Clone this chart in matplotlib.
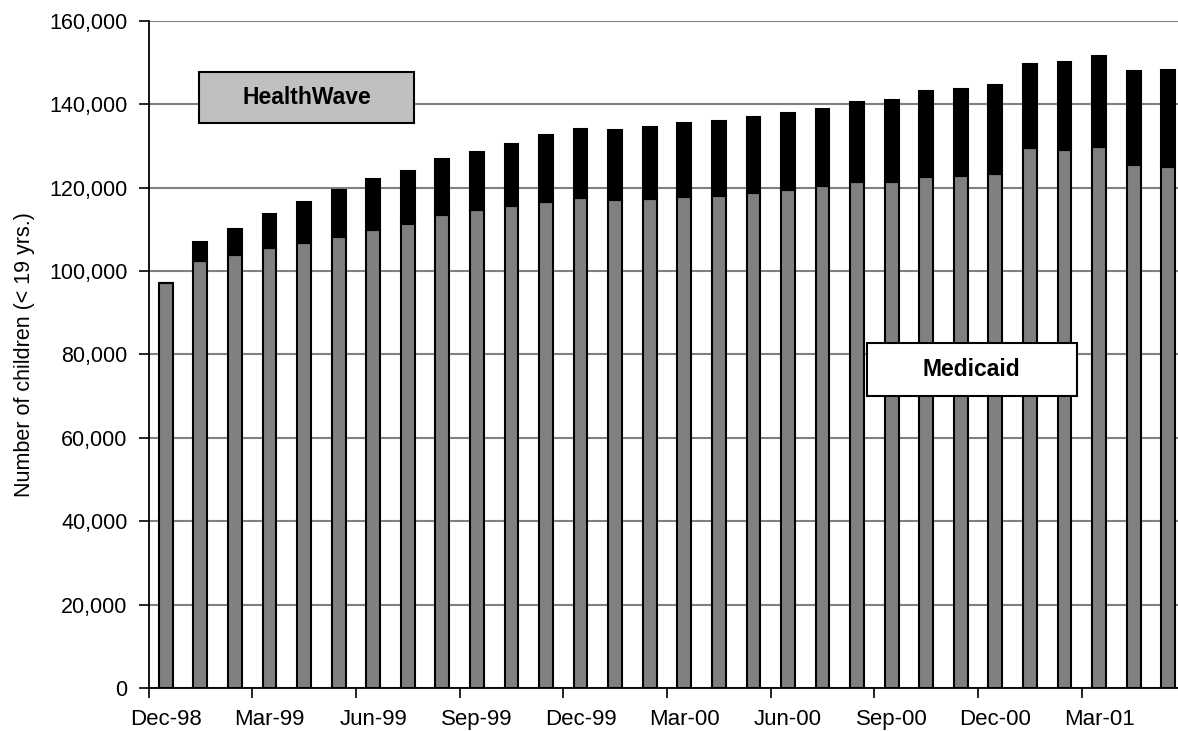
import matplotlib.pyplot as plt
from matplotlib.patches import Rectangle
from matplotlib.ticker import FuncFormatter, FixedLocator

plt.rcParams['font.family'] = ['Liberation Sans', 'DejaVu Sans']

months = ['Dec-98', 'Jan-99', 'Feb-99', 'Mar-99', 'Apr-99', 'May-99', 'Jun-99', 'Jul-99',
          'Aug-99', 'Sep-99', 'Oct-99', 'Nov-99', 'Dec-99', 'Jan-00', 'Feb-00', 'Mar-00',
          'Apr-00', 'May-00', 'Jun-00', 'Jul-00', 'Aug-00', 'Sep-00', 'Oct-00', 'Nov-00',
          'Dec-00', 'Jan-01', 'Feb-01', 'Mar-01', 'Apr-01', 'May-01']

# enrolled children by program
medicaid = [97100, 102400, 103800, 105500, 106700, 108300, 109800, 111300,
            113500, 114700, 115700, 116700, 117500, 117100, 117300, 117900,
            118000, 118700, 119500, 120300, 121400, 121400, 122500, 122900,
            123400, 129500, 129000, 129700, 125500, 125000]
total = [97100, 107000, 110000, 113800, 116700, 119500, 122000, 124000,
         126800, 128600, 130500, 132600, 134000, 133800, 134500, 135600,
         136000, 137000, 138000, 139000, 140600, 141000, 143300, 143800,
         144600, 149700, 150200, 151600, 148000, 148200]
healthwave = [t - m for t, m in zip(total, medicaid)]

fig = plt.figure(figsize=(11.78, 7.31), dpi=100)
ax = fig.add_axes([148.5 / 1178, 43 / 731, 1037 / 1178, 667 / 731])

x = list(range(len(months)))
ax.bar(x, medicaid, width=0.4, color='#808080', edgecolor='black', linewidth=1.5, zorder=2)
ax.bar(x, healthwave, bottom=medicaid, width=0.4, color='black', edgecolor='black',
       linewidth=1.5, zorder=2)

ax.set_xlim(-0.5, len(months) - 0.5)
ax.set_ylim(0, 160000)
ax.set_yticks(range(0, 160001, 20000))
ax.yaxis.set_major_formatter(FuncFormatter(lambda v, p: f'{int(v):,}'))
ax.yaxis.grid(True, color='#808080', linewidth=1.5, zorder=0)
ax.set_axisbelow(True)

# labels centred on months, tick marks between categories
ax.set_xticks(x[::3])
ax.set_xticklabels(months[::3])
ax.xaxis.set_minor_locator(FixedLocator([i - 0.5 for i in range(0, len(months) + 1, 3)]))
ax.tick_params(axis='x', which='major', length=0, pad=15, labelsize=16)
ax.tick_params(axis='x', which='minor', length=7, width=1.2, direction='out')
ax.tick_params(axis='y', length=7, width=1.2, pad=8, labelsize=15.5)

for side in ['top', 'right']:
    ax.spines[side].set_visible(False)
for side in ['left', 'bottom']:
    ax.spines[side].set_linewidth(1.3)

ax.set_ylabel('Number of children (< 19 yrs.)', fontsize=15.5, labelpad=10)

# series labels in boxes
boxes = [('HealthWave', 0.0487, 0.8475, 0.2073, 0.0765, '#C0C0C0'),
         ('Medicaid', 0.6926, 0.4382, 0.2024, 0.0786, 'white')]
for label, bx, by, bw, bh, fc in boxes:
    ax.add_patch(Rectangle((bx, by), bw, bh, transform=ax.transAxes, facecolor=fc,
                           edgecolor='black', linewidth=1.5, zorder=5, clip_on=False))
    ax.text(bx + bw / 2, by + bh / 2, label, transform=ax.transAxes, ha='center',
            va='center', fontsize=16.5, fontweight='bold', zorder=6)

fig.savefig('out.png', dpi=100)
